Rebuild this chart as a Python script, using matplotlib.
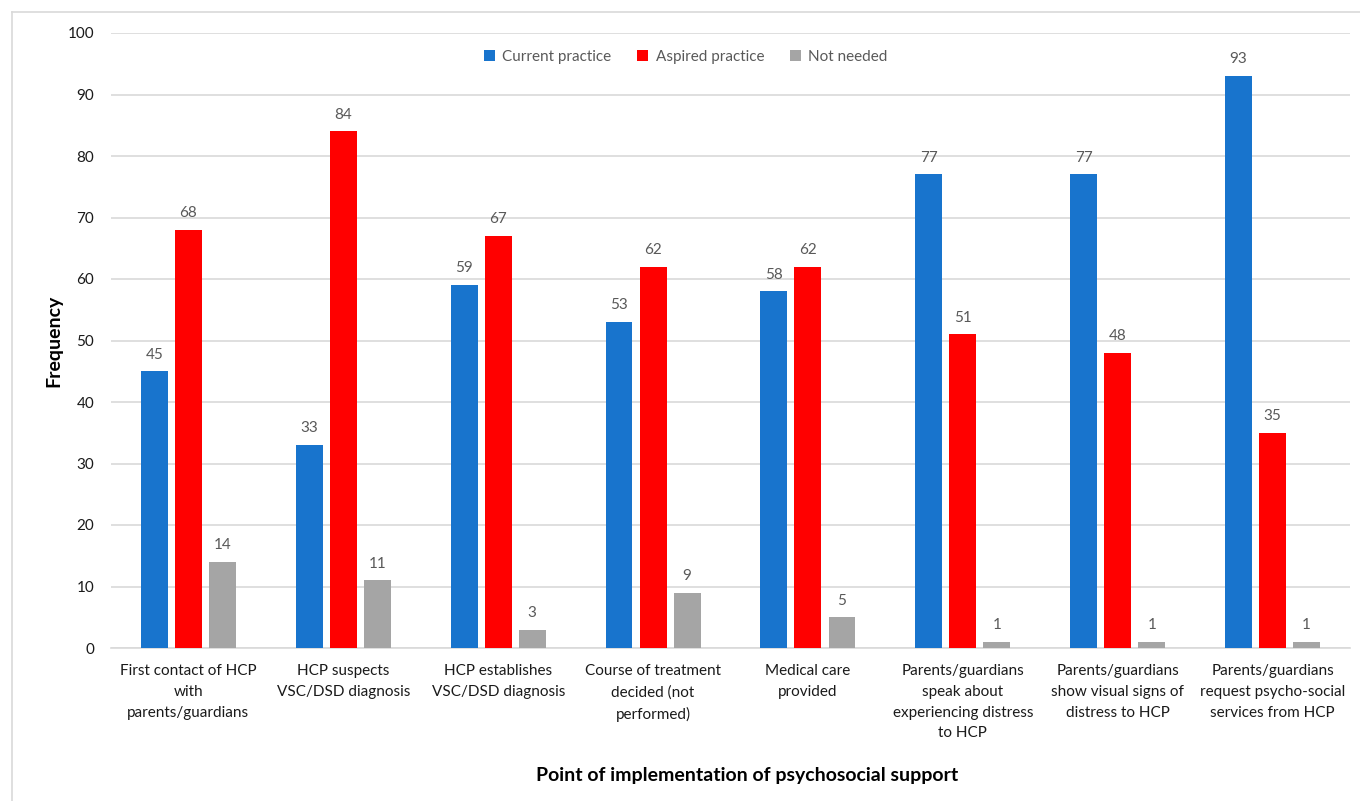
import matplotlib
matplotlib.use("Agg")
import matplotlib.pyplot as plt
from matplotlib.lines import Line2D
import numpy as np

categories = [
    "First contact of HCP\nwith\nparents/guardians",
    "HCP suspects\nVSC/DSD diagnosis",
    "HCP establishes\nVSC/DSD diagnosis",
    "Course of treatment\ndecided (not\nperformed)",
    "Medical care\nprovided",
    "Parents/guardians\nspeak about\nexperiencing distress\nto HCP",
    "Parents/guardians\nshow visual signs of\ndistress to HCP",
    "Parents/guardians\nrequest psycho-social\nservices from HCP",
]
current_practice = [45, 33, 59, 53, 58, 77, 77, 93]
aspired_practice = [68, 84, 67, 62, 62, 51, 48, 35]
not_needed = [14, 11, 3, 9, 5, 1, 1, 1]

series = [
    ("Current practice", current_practice, "#1874CD"),
    ("Aspired practice", aspired_practice, "#FF0000"),
    ("Not needed", not_needed, "#A5A5A5"),
]

plt.rcParams["font.family"] = ["Lato", "DejaVu Sans"]

fig = plt.figure(figsize=(13.6, 8.01), dpi=100)
ax = fig.add_axes([111 / 1360, 1 - 648 / 801, (1350 - 111) / 1360, (648 - 33) / 801])

# chart frame
fig.add_artist(Line2D([12 / 1360, 1.0], [1 - 12 / 801] * 2, color="#D9D9D9", lw=1.2,
                      transform=fig.transFigure))
fig.add_artist(Line2D([12 / 1360] * 2, [0, 1 - 12 / 801], color="#D9D9D9", lw=1.2,
                      transform=fig.transFigure))

fs = 11.0
x = np.arange(len(categories))
width = 0.174
step = 0.22
label_color = "#595959"
for i, (name, vals, color) in enumerate(series):
    pos = x + (i - 1) * step
    bars = ax.bar(pos, vals, width, color=color, label=name, zorder=3)
    for b, v in zip(bars, vals):
        ax.annotate(str(v), (b.get_x() + b.get_width() / 2, v), xytext=(0, 7),
                    textcoords="offset points", ha="center", va="bottom",
                    fontsize=fs, color=label_color)

ax.set_xlim(-0.5, len(categories) - 0.5)
ax.set_ylim(0, 100)
ax.set_yticks(np.arange(0, 101, 10))
ax.yaxis.grid(True, color="#D9D9D9", lw=1.2, zorder=0)
ax.set_axisbelow(True)
for s in ["top", "right", "left"]:
    ax.spines[s].set_visible(False)
ax.spines["bottom"].set_color("#D9D9D9")
ax.spines["bottom"].set_linewidth(1.2)
ax.tick_params(axis="both", length=0, labelsize=fs, colors="#1a1a1a")
ax.tick_params(axis="y", pad=12)
ax.tick_params(axis="x", pad=11.5)
ax.set_xticks(x)
ax.set_xticklabels(categories, linespacing=1.62)

ax.set_ylabel("Frequency", fontsize=14, fontweight="bold", labelpad=4)
fig.text(747 / 1360, 1 - 776 / 801, "Point of implementation of psychosocial support",
         ha="center", va="center", fontsize=14, fontweight="bold")

ax.legend(loc="upper center", bbox_to_anchor=(0.464, 0.995), ncol=3, frameon=False,
          fontsize=fs, handlelength=0.7, handleheight=0.7, handletextpad=0.5,
          columnspacing=1.7, labelcolor=label_color)

fig.savefig("out.png", dpi=100)
